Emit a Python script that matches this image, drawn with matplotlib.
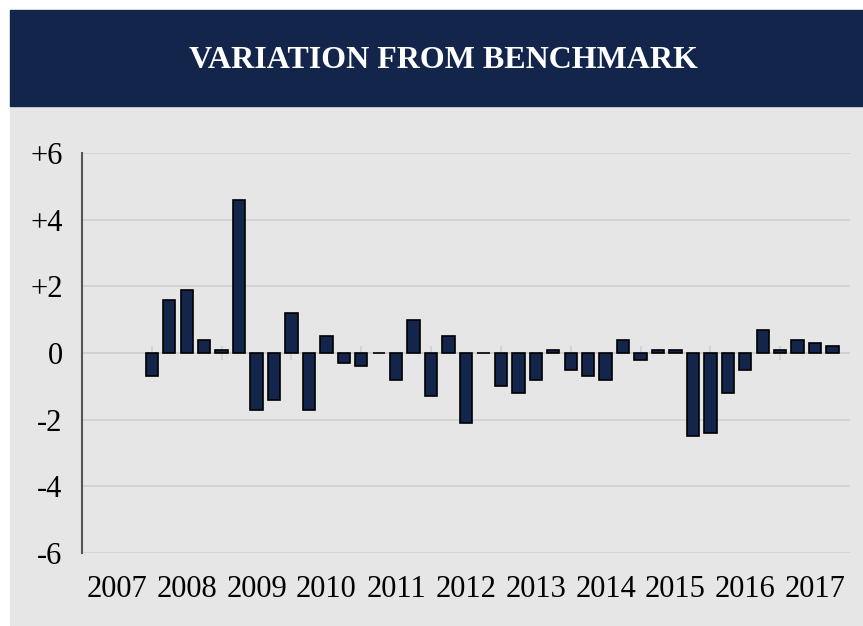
import numpy as np
import matplotlib
matplotlib.use('Agg')
import matplotlib.pyplot as plt
from matplotlib.patches import Rectangle

plt.rcParams['font.family'] = ['Liberation Serif', 'DejaVu Serif']

years = [2007, 2008, 2009, 2010, 2011, 2012, 2013, 2014, 2015, 2016, 2017]
first_bar_year = 2008
variation = [-0.7, 1.6, 1.9, 0.4, 0.1, 4.6, -1.7, -1.4, 1.2, -1.7,
             0.5, -0.3, -0.4, 0.0, -0.8, 1.0, -1.3, 0.5, -2.1, 0.0,
             -1.0, -1.2, -0.8, 0.1, -0.5, -0.7, -0.8, 0.4, -0.2, 0.1,
             0.1, -2.5, -2.4, -1.2, -0.5, 0.7, 0.1, 0.4, 0.3, 0.2]
y_ticks = [-6, -4, -2, 0, 2, 4, 6]
y_labels = ['-6', '-4', '-2', '0', '+2', '+4', '+6']

navy = '#13254a'
grid_c = '#d0d0d0'

W, H = 863, 626
fig = plt.figure(figsize=(W / 100, H / 100), dpi=100, facecolor='white')

# background panels (figure coords), kept behind the axes
fig.patches.append(Rectangle((10 / W, 1 - 625 / H), (W - 10) / W, (625 - 106) / H,
                             transform=fig.transFigure, color='#e6e6e6', zorder=-10))
fig.patches.append(Rectangle((10 / W, 1 - 106 / H), (W - 10) / W, 96 / H,
                             transform=fig.transFigure, color=navy, zorder=-10))
fig.text((10 + W) / 2 / W + 0.008, 1 - 61 / H, 'VARIATION FROM BENCHMARK', color='white',
         fontsize=23, fontweight='bold', ha='center', va='center')

ax = fig.add_axes([82 / W, 1 - 553 / H, (850 - 82) / W, 400 / H])
ax.set_facecolor('none')

# one bar per quarter, starting in first_bar_year
n_q = len(years) * 4
x = (first_bar_year - years[0]) * 4 + np.arange(len(variation))
ax.bar(x, variation, width=0.71, color=navy, edgecolor='black', linewidth=1.2, zorder=3)

ax.set_xlim(0, n_q)
ax.set_ylim(-6, 6)

ax.set_yticks(y_ticks)
ax.set_yticklabels(y_labels, va='center_baseline')
ax.yaxis.grid(True, color=grid_c, linewidth=1.2)
ax.set_axisbelow(True)

ax.set_xticks(np.arange(len(years)) * 4 + 2)
ax.set_xticklabels([str(y) for y in years])
ax.tick_params(axis='both', length=0, labelsize=22, colors='black')
ax.tick_params(axis='y', pad=14)
ax.tick_params(axis='x', pad=16)

# axis line at zero with crossing tick marks at year boundaries
ax.axhline(0, color=grid_c, linewidth=1.2, zorder=2)
ax.vlines(np.arange(1, len(years)) * 4, -0.21, 0.21, color=grid_c, linewidth=1.2, zorder=2)

for s in ['top', 'right', 'bottom']:
    ax.spines[s].set_visible(False)
ax.spines['left'].set_color('#555555')
ax.spines['left'].set_linewidth(1.5)

fig.savefig('out.png', dpi=100, facecolor='white')
